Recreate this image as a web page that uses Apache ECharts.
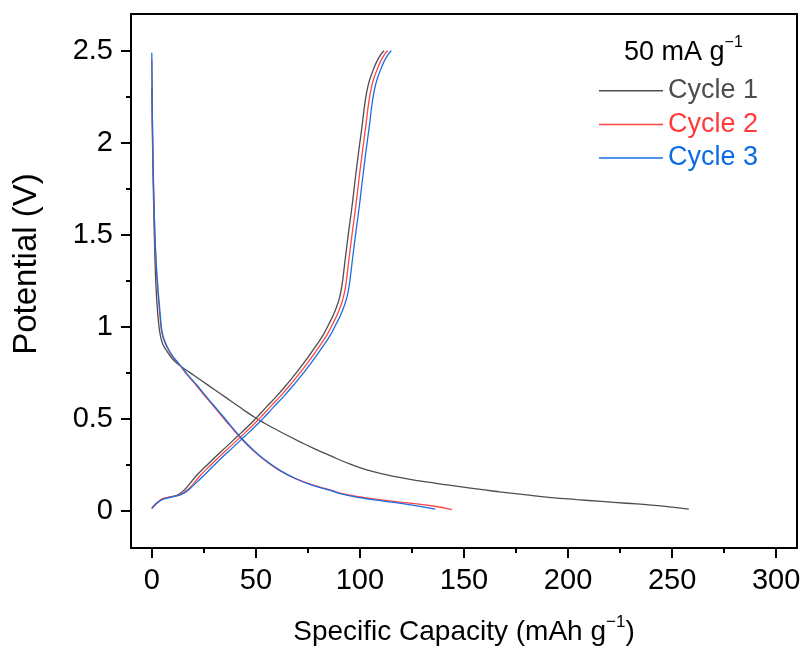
<!DOCTYPE html>
<html>
<head>
<meta charset="utf-8">
<script src="https://cdn.jsdelivr.net/npm/echarts@6/dist/echarts.min.js"></script>
<style>
html,body{margin:0;padding:0;background:#fff;}
#chart{width:803px;height:648px;}
</style>
</head>
<body>
<div id="chart"></div>
<script>
// ---- data ----
const seriesNames = ['Cycle 1', 'Cycle 2', 'Cycle 3'];
const legendTitle = '50 mA g';
const xTickValues = [0, 50, 100, 150, 200, 250, 300];
const xMinorTickValues = [25, 75, 125, 175, 225, 275];
const yTickValues = [0, 0.5, 1, 1.5, 2, 2.5];
const yMinorTickValues = [0.25, 0.75, 1.25, 1.75, 2.25];

// Cycle 1 discharge
const c1DisX = [0, 0.2, 0.5, 0.9, 1.4, 2, 2.8, 3.6, 4.6, 5.8, 7.2, 9, 10.5, 13.6, 18, 24, 30, 36, 42, 46, 50, 54, 57, 64, 71, 78, 86, 95, 105, 119, 131, 143, 155, 167, 180, 192, 204, 216, 228, 240, 250, 258];
const c1DisY = [2.3, 2.1, 1.9, 1.65, 1.42, 1.22, 1.08, 0.99, 0.93, 0.895, 0.87, 0.84, 0.82, 0.79, 0.755, 0.708, 0.661, 0.614, 0.567, 0.535, 0.506, 0.479, 0.46, 0.418, 0.378, 0.34, 0.3, 0.257, 0.219, 0.183, 0.16, 0.141, 0.122, 0.105, 0.088, 0.074, 0.063, 0.053, 0.043, 0.033, 0.022, 0.011];
// Cycle 1 charge
const c1ChaX = [0, 1.5, 3, 5, 8, 11, 13, 16, 21.6, 26, 31, 36, 41, 46, 50, 55, 60, 65, 70, 75, 79.3, 82.5, 85, 87, 88.9, 90.2, 91.3, 92.1, 92.9, 94.5, 96.2, 97.7, 99.3, 101, 102.5, 104, 105.8, 108, 110, 111.6];
const c1ChaY = [0.015, 0.035, 0.05, 0.065, 0.075, 0.083, 0.092, 0.12, 0.195, 0.245, 0.30, 0.352, 0.405, 0.458, 0.504, 0.565, 0.625, 0.69, 0.76, 0.835, 0.905, 0.96, 1.015, 1.06, 1.113, 1.16, 1.222, 1.29, 1.367, 1.511, 1.656, 1.80, 1.945, 2.09, 2.225, 2.315, 2.379, 2.44, 2.48, 2.5];

// Cycle 2 discharge
const c2DisX = [0, 0.2, 0.5, 0.9, 1.4, 2, 2.6, 3.2, 4, 4.8, 6.5, 8.8, 11, 13.6, 17, 21.6, 25.5, 29.6, 33.5, 37.6, 44, 49, 53.7, 61.7, 69.7, 78, 85.7, 90.5, 100, 111.3, 123, 135, 144.2];
const c2DisY = [2.45, 2.2, 1.95, 1.72, 1.52, 1.35, 1.24, 1.15, 1.05, 0.97, 0.91, 0.86, 0.825, 0.79, 0.74, 0.68, 0.625, 0.571, 0.518, 0.463, 0.381, 0.326, 0.282, 0.219, 0.174, 0.14, 0.116, 0.098, 0.077, 0.06, 0.045, 0.028, 0.009];
// Cycle 2 charge
const c2ChaX = [0, 1.5, 3, 5, 8, 11, 13.5, 15.5, 18.5, 23.4, 27.8, 32.8, 37.8, 42.8, 47.8, 51.8, 56.8, 61.8, 66.8, 71.8, 76.8, 81.1, 84.3, 86.8, 88.8, 90.7, 92, 93.1, 93.9, 94.7, 96.3, 98, 99.5, 101.1, 102.8, 104.3, 105.8, 107.6, 109.8, 111.8, 113.3];
const c2ChaY = [0.015, 0.035, 0.05, 0.065, 0.075, 0.082, 0.09, 0.103, 0.13, 0.195, 0.245, 0.30, 0.352, 0.405, 0.458, 0.504, 0.565, 0.625, 0.69, 0.76, 0.835, 0.905, 0.96, 1.015, 1.06, 1.113, 1.16, 1.222, 1.29, 1.367, 1.511, 1.656, 1.80, 1.945, 2.09, 2.225, 2.315, 2.379, 2.44, 2.48, 2.5];

// Cycle 3 discharge
const c3DisX = [0, 0.2, 0.5, 0.9, 1.4, 2, 2.7, 3.4, 4.2, 5, 6.7, 9, 11.2, 13.8, 17.3, 22, 26, 30, 34, 38, 44.4, 49.4, 54, 62, 70, 78, 85.7, 90.5, 100, 111.3, 123, 136.2];
const c3DisY = [2.49, 2.22, 1.97, 1.74, 1.54, 1.37, 1.25, 1.15, 1.05, 0.97, 0.91, 0.86, 0.825, 0.79, 0.74, 0.68, 0.625, 0.571, 0.518, 0.463, 0.381, 0.326, 0.282, 0.219, 0.172, 0.137, 0.113, 0.095, 0.073, 0.055, 0.037, 0.011];
// Cycle 3 charge
const c3ChaX = [0, 1.5, 3, 5, 8, 11, 14, 16.5, 20, 25.1, 29.5, 34.5, 39.5, 44.5, 49.5, 53.5, 58.5, 63.5, 68.5, 73.5, 78.5, 82.8, 86, 88.5, 90.5, 92.4, 93.7, 94.8, 95.6, 96.4, 98, 99.7, 101.2, 102.8, 104.5, 106, 107.5, 109.3, 111.5, 113.5, 115.1];
const c3ChaY = [0.015, 0.033, 0.048, 0.062, 0.072, 0.08, 0.09, 0.105, 0.14, 0.195, 0.245, 0.30, 0.352, 0.405, 0.458, 0.504, 0.565, 0.625, 0.69, 0.76, 0.835, 0.905, 0.96, 1.015, 1.06, 1.113, 1.16, 1.222, 1.29, 1.367, 1.511, 1.656, 1.80, 1.945, 2.09, 2.225, 2.315, 2.379, 2.44, 2.48, 2.5];

const colors = ['#4d4d4d', '#ff4646', '#1a6fe0'];
const textColors = ['#4d4d4d', '#ff3a3a', '#0a6be3'];

function zip(xs, ys) { return xs.map((x, i) => [x, ys[i]]); }

const curves = [
  [zip(c1DisX, c1DisY), zip(c1ChaX, c1ChaY)],
  [zip(c2DisX, c2DisY), zip(c2ChaX, c2ChaY)],
  [zip(c3DisX, c3DisY), zip(c3ChaX, c3ChaY)]
];

const FONT = '"Liberation Sans", Arial, sans-serif';

const series = [];
curves.forEach((pair, ci) => {
  pair.forEach((d) => {
    series.push({
      name: seriesNames[ci],
      type: 'line',
      data: d,
      xAxisIndex: 0,
      yAxisIndex: 0,
      symbol: 'none',
      smooth: 0.5,
      lineStyle: { color: colors[ci], width: 1.3 },
      itemStyle: { color: colors[ci] },
      z: 2 + ci
    });
  });
});

const axisLineStyle = { color: '#000', width: 2 };

const chart = echarts.init(document.getElementById('chart'), null, { renderer: 'canvas' });
chart.setOption({
  animation: false,
  backgroundColor: '#fff',
  title: {
    text: legendTitle + '{sup|−1}',
    left: 624,
    top: 35,
    padding: 0,
    textStyle: {
      fontFamily: FONT, fontSize: 27, fontWeight: 'normal', color: '#000', lineHeight: 36,
      rich: { sup: { fontFamily: FONT, fontSize: 16, lineHeight: 16, verticalAlign: 'top', color: '#000' } }
    }
  },
  legend: {
    orient: 'vertical',
    left: 599,
    top: 74,
    padding: 0,
    itemGap: 0,
    itemWidth: 64,
    itemHeight: 1.5,
    icon: 'rect',
    selectedMode: false,
    data: seriesNames.map((n, i) => ({ name: n, textStyle: { color: textColors[i] } })),
    textStyle: { fontFamily: FONT, fontSize: 27, lineHeight: 33.6 }
  },
  grid: { left: 131, right: 6, top: 14, bottom: 100, containLabel: false, outerBoundsMode: 'none' },
  xAxis: [
    {
      type: 'value', min: -10, max: 310, position: 'bottom',
      axisLine: { show: true, onZero: false, lineStyle: axisLineStyle },
      axisTick: { show: true, inside: false, length: 10, customValues: xTickValues, lineStyle: { color: '#000', width: 2 } },
      axisLabel: { show: true, customValues: xTickValues, fontFamily: FONT, fontSize: 29, color: '#000', margin: 18 },
      splitLine: { show: false },
      name: 'Specific Capacity (mAh g{sup|−1})',
      nameLocation: 'middle',
      nameGap: 66,
      nameTextStyle: {
        fontFamily: FONT, fontSize: 28, color: '#000', lineHeight: 36,
        rich: { sup: { fontFamily: FONT, fontSize: 17, lineHeight: 17, verticalAlign: 'top', color: '#000' } }
      }
    },
    {
      type: 'value', min: -10, max: 310, position: 'bottom',
      axisLine: { show: false, onZero: false },
      axisTick: { show: true, inside: false, length: 5, customValues: xMinorTickValues, lineStyle: { color: '#000', width: 2 } },
      axisLabel: { show: false },
      splitLine: { show: false }
    },
    {
      type: 'value', min: -10, max: 310, position: 'top',
      axisLine: { show: true, onZero: false, lineStyle: axisLineStyle },
      axisTick: { show: false }, axisLabel: { show: false }, splitLine: { show: false }
    }
  ],
  yAxis: [
    {
      type: 'value', min: -0.2, max: 2.7, position: 'left',
      axisLine: { show: true, onZero: false, lineStyle: axisLineStyle },
      axisTick: { show: true, inside: false, length: 10, customValues: yTickValues, lineStyle: { color: '#000', width: 2 } },
      axisLabel: { show: true, customValues: yTickValues, fontFamily: FONT, fontSize: 29, color: '#000', margin: 18 },
      splitLine: { show: false },
      name: 'Potential (V)',
      nameLocation: 'middle',
      nameGap: 88,
      nameTextStyle: { fontFamily: FONT, fontSize: 33, color: '#000', padding: [0, 0, 0, 34] }
    },
    {
      type: 'value', min: -0.2, max: 2.7, position: 'left',
      axisLine: { show: false, onZero: false },
      axisTick: { show: true, inside: false, length: 5, customValues: yMinorTickValues, lineStyle: { color: '#000', width: 2 } },
      axisLabel: { show: false },
      splitLine: { show: false }
    },
    {
      type: 'value', min: -0.2, max: 2.7, position: 'right',
      axisLine: { show: true, onZero: false, lineStyle: axisLineStyle },
      axisTick: { show: false }, axisLabel: { show: false }, splitLine: { show: false }
    }
  ],
  series: series
});
</script>
</body>
</html>
